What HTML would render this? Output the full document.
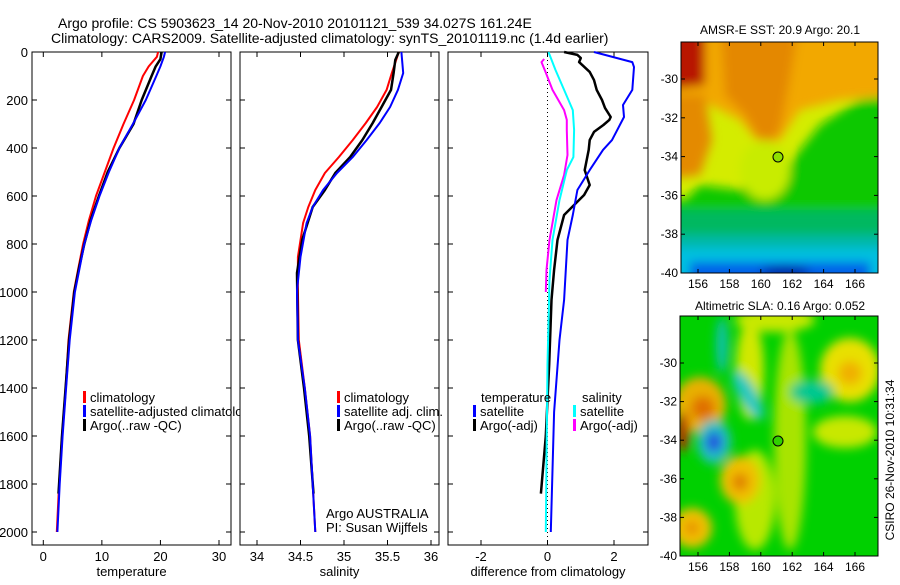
<!DOCTYPE html>
<html><head><meta charset="utf-8"><style>
body{margin:0;background:#fff;width:900px;height:580px;overflow:hidden}
svg text{font-family:"Liberation Sans",sans-serif;fill:#000}
</style></head><body>
<svg id="fig" width="900" height="580" viewBox="0 0 900 580" xmlns="http://www.w3.org/2000/svg">
<defs>
<filter id="blr" x="-20%" y="-20%" width="140%" height="140%"><feGaussianBlur stdDeviation="5"/></filter>
<clipPath id="c1"><rect x="681" y="42" width="197" height="231"/></clipPath>
<clipPath id="c2"><rect x="680" y="316" width="198" height="240"/></clipPath>
</defs>
<text x="58" y="28" font-size="14">Argo profile: CS 5903623_14 20-Nov-2010 20101121_539 34.027S 161.24E</text>
<text x="51" y="43" font-size="14">Climatology: CARS2009. Satellite-adjusted climatology: synTS_20101119.nc (1.4d earlier)</text>
<g id="plots"></g>

<g>
<g clip-path="url(#c1)">
<rect x="681" y="42" width="197" height="231" fill="#d4ec00"/>
<g filter="url(#blr)">
<polygon points="660,20 900,20 900,95 840,100 800,110 780,140 765,150 740,120 720,110 700,100 660,100" fill="#f2a800"/>
<polygon points="720,20 800,20 790,80 780,130 765,150 745,115 725,95" fill="#e48800"/>
<polygon points="660,95 705,95 712,140 700,175 660,180" fill="#e48a00"/>
<polygon points="660,20 705,20 705,85 660,90" fill="#b81800"/>
<polygon points="900,95 860,100 835,115 820,125 800,150 790,165 760,175 740,190 700,185 685,200 660,200 660,300 900,300" fill="#10c800"/>
<polygon points="660,210 900,210 900,300 660,300" fill="#00b860"/>
<polygon points="660,235 900,235 900,300 660,300" fill="#00b8a8"/>
<polygon points="660,248 900,248 900,300 660,300" fill="#00c0e0"/>
<polygon points="690,262 870,262 870,300 690,300" fill="#0060e8"/>
<ellipse cx="785" cy="272" rx="25" ry="6" fill="#0020a0"/>
<ellipse cx="765" cy="170" rx="25" ry="30" fill="#c8ec00"/>
</g>
</g>
<circle cx="778" cy="157" r="5" fill="#8ee000" stroke="#000"/>
</g>

<g>
<g clip-path="url(#c2)">
<rect x="680" y="316" width="198" height="240" fill="#00d000"/>
<g filter="url(#blr)">
<ellipse cx="750" cy="370" rx="14" ry="50" fill="#d0e800"/>
<ellipse cx="755" cy="500" rx="20" ry="50" fill="#b8e800"/>
<ellipse cx="790" cy="440" rx="16" ry="110" fill="#a8e400"/>
<ellipse cx="850" cy="370" rx="30" ry="32" fill="#e8e000"/>
<ellipse cx="850" cy="373" rx="12" ry="12" fill="#f0b000"/>
<ellipse cx="845" cy="432" rx="32" ry="16" fill="#c8e800"/>
<ellipse cx="700" cy="405" rx="26" ry="28" fill="#e8b000"/>
<ellipse cx="703" cy="408" rx="12" ry="12" fill="#e07000"/>
<ellipse cx="683" cy="432" rx="6" ry="20" fill="#c02000"/>
<ellipse cx="714" cy="442" rx="17" ry="22" fill="#20c0c0"/>
<ellipse cx="714" cy="442" rx="8" ry="10" fill="#2050e0"/>
<ellipse cx="740" cy="480" rx="20" ry="24" fill="#f0c000"/>
<ellipse cx="740" cy="482" rx="8" ry="9" fill="#e08000"/>
<ellipse cx="692" cy="528" rx="20" ry="20" fill="#f0c000"/>
<ellipse cx="692" cy="528" rx="7" ry="7" fill="#e89000"/>
<ellipse cx="748" cy="395" rx="9" ry="28" fill="#20c8c0" transform="rotate(-30 748 395)"/>
<ellipse cx="722" cy="345" rx="6" ry="28" fill="#10c0b0"/>
<ellipse cx="812" cy="392" rx="22" ry="12" fill="#00c890"/>
<ellipse cx="775" cy="320" rx="40" ry="12" fill="#c8e800"/>
</g>
</g>
<circle cx="778" cy="441" r="5" fill="#30d000" stroke="#000"/>
</g>
<text x="780" y="34" font-size="12" text-anchor="middle">AMSR-E SST: 20.9 Argo: 20.1</text>
<text x="780" y="310" font-size="12" text-anchor="middle">Altimetric SLA: 0.16 Argo: 0.052</text>
<text transform="translate(894 460) rotate(-90)" font-size="12" text-anchor="middle">CSIRO 26-Nov-2010 10:31:34</text>
</svg>
<script>
// ---- data ----
const tempDepths=[0,20,60,100,200,300,400,500,600,700,800,900,1000,1200,1400,1600,1800,2000];
const tempClim=[19.6,19.4,18.0,17.0,15.5,13.7,12.0,10.5,9.0,7.8,6.8,6.0,5.2,4.3,3.8,3.2,2.7,2.3];
const tempSat=[20.8,20.6,20.0,19.3,17.5,15.3,13.0,11.2,9.6,8.2,7.0,6.2,5.4,4.5,3.9,3.3,2.8,2.4];
const tempArgoDepths=[0,30,60,100,200,300,400,500,600,700,800,900,1000,1200,1400,1600,1840];
const tempArgo=[20.2,20.0,19.2,18.5,16.8,15.4,13.0,11.0,9.5,8.1,7.0,6.1,5.3,4.4,3.8,3.2,2.6];
const salDepths=[0,88,158,229,296,367,438,504,575,646,713,854,992,1200,1400,1600,1800,2000];
const salClim=[35.63,35.55,35.49,35.38,35.25,35.10,34.94,34.78,34.67,34.59,34.53,34.47,34.47,34.48,34.55,34.61,34.64,34.67];
const salSat=[35.66,35.68,35.62,35.53,35.41,35.26,35.10,34.92,34.76,34.64,34.57,34.50,34.46,34.47,34.55,34.61,34.64,34.67];
const salArgoDepths=[0,33,88,158,296,367,438,504,575,646,783,921,1200,1400,1600,1840];
const salArgo=[35.63,35.59,35.57,35.54,35.33,35.21,35.07,34.90,34.78,34.64,34.52,34.46,34.47,34.54,34.60,34.65];
const dTempSatDepths=[0,42,63,158,221,271,367,408,492,575,679,783,1033,1200,1500,2000];
const dTempSat=[1.4,2.55,2.6,2.55,2.27,2.3,1.94,1.67,1.27,0.9,0.76,0.6,0.5,0.36,0.2,0.1];
const dTempArgoDepths=[0,12,25,42,83,117,158,200,233,271,283,304,333,367,408,492,554,596,679,783,908,1033,1300,1600,1840];
const dTempArgo=[0.5,0.9,1.0,0.95,1.27,1.4,1.48,1.64,1.73,1.9,1.86,1.68,1.4,1.27,1.24,1.12,1.27,1.1,0.5,0.3,0.2,0.12,0.05,-0.05,-0.2];
const dSalSatDepths=[0,75,158,242,325,438,492,617,783,950,1300,1700,2000];
const dSalSat=[0.03,0.24,0.5,0.76,0.8,0.78,0.58,0.36,0.15,0.06,0.0,-0.03,-0.05];
const dSalArgoDepths=[29,42,83,158,242,283,325,429,513,617,783,908,1000];
const dSalArgo=[-0.1,-0.18,-0.06,0.15,0.5,0.58,0.58,0.6,0.5,0.27,0.06,-0.03,-0.05];
const depthTicks=[0,200,400,600,800,1000,1200,1400,1600,1800,2000];
const tempTicks=[0,10,20,30];
const salTicks=[34,34.5,35,35.5,36];
const salTickLabels=["34","34.5","35","35.5","36"];
const diffTicks=[-2,0,2];

const NS="http://www.w3.org/2000/svg";
const root=document.getElementById('plots');
function mk(tag,attrs,parent){const e=document.createElementNS(NS,tag);for(const k in attrs)e.setAttribute(k,attrs[k]);(parent||root).appendChild(e);return e;}
const top0=52,bot=545;
const yD=d=>top0+d*0.24;
function panel(name,left,right,x0v,x1v,x0p,x1p,ticks,labels,xlabel,showY){
  const xs=v=>x0p+(v-x0v)*(x1p-x0p)/(x1v-x0v);
  const g=mk('g',{});
  
  
  const r=mk('rect',{x:left,y:top0,width:right-left,height:bot-top0,fill:'#fff',stroke:'#000','stroke-width':1},g);
  
  
  depthTicks.forEach(d=>{
    const y=yD(d);
    mk('line',{x1:left,x2:left+5,y1:y,y2:y,stroke:'#000'},g);
    mk('line',{x1:right-5,x2:right,y1:y,y2:y,stroke:'#000'},g);
    if(showY){const t=mk('text',{x:left-4,y:y+5,'font-size':13,'text-anchor':'end'},g);t.textContent=d;
      
      }
  });
  ticks.forEach((v,i)=>{
    const x=xs(v);
    mk('line',{x1:x,x2:x,y1:top0,y2:top0+5,stroke:'#000'},g);
    mk('line',{x1:x,x2:x,y1:bot-5,y2:bot,stroke:'#000'},g);
    const t=mk('text',{x:x,y:bot+16,'font-size':13,'text-anchor':'middle'},g);t.textContent=labels[i];
    
    
  });
  const xl=mk('text',{x:(left+right)/2,y:bot+31,'font-size':13,'text-anchor':'middle'},g);xl.textContent=xlabel;
  
  
  return {g,xs};
}
function line(p,depths,vals,color,w,name){
  const pts=depths.map((d,i)=>p.xs(vals[i]).toFixed(1)+','+yD(d).toFixed(1)).join(' ');
  const l=mk('polyline',{points:pts,fill:'none',stroke:color,'stroke-width':w,'stroke-linejoin':'round'},p.g);
  
  
}
function legend(g,x,y,color,text,name){
  mk('rect',{x:x,y:y-11,width:3,height:12,fill:color},g);
  const t=mk('text',{x:x+7,y:y,'font-size':13},g);t.textContent=text;
  
  
}
const p1=panel('temperature-panel',32,231,0,30,43.3,219,tempTicks,tempTicks.map(String),'temperature',true);
line(p1,tempDepths,tempClim,'#f00',2,'temp-climatology-line');
line(p1,tempArgoDepths,tempArgo,'#000',2.5,'temp-argo-line');
line(p1,tempDepths,tempSat,'#00f',2,'temp-satellite-line');
legend(p1.g,83,402,'#f00','climatology','temp-legend-climatology');
legend(p1.g,83,416,'#00f','satellite-adjusted climatology','temp-legend-satellite');
legend(p1.g,83,430,'#000','Argo(..raw -QC)','temp-legend-argo');

const p2=panel('salinity-panel',240,439,34,36,257,431,salTicks,salTickLabels,'salinity',false);
line(p2,salDepths,salClim,'#f00',2,'sal-climatology-line');
line(p2,salArgoDepths,salArgo,'#000',2.5,'sal-argo-line');
line(p2,salDepths,salSat,'#00f',2,'sal-satellite-line');
legend(p2.g,337,402,'#f00','climatology','sal-legend-climatology');
legend(p2.g,337,416,'#00f','satellite adj. clim.','sal-legend-satellite');
legend(p2.g,337,430,'#000','Argo(..raw -QC)','sal-legend-argo');
[['Argo AUSTRALIA',518],['PI: Susan Wijffels',532]].forEach(a=>{const t=mk('text',{x:326,y:a[1],'font-size':13},p2.g);t.textContent=a[0];
  
  });

const p3=panel('difference-panel',448,648,-2,2,481,614,diffTicks,diffTicks.map(String),'difference from climatology',false);
mk('line',{x1:p3.xs(0),x2:p3.xs(0),y1:top0,y2:bot,stroke:'#000','stroke-dasharray':'1,3'},p3.g);
line(p3,dSalArgoDepths,dSalArgo,'#f0f',2,'diff-sal-argo-line');
line(p3,dTempArgoDepths,dTempArgo,'#000',2.5,'diff-temp-argo-line');
line(p3,dTempSatDepths,dTempSat,'#00f',2,'diff-temp-satellite-line');
line(p3,dSalSatDepths,dSalSat,'#0ff',2,'diff-sal-satellite-line');
const th=mk('text',{x:481,y:402,'font-size':13},p3.g);th.textContent='temperature';


const sh=mk('text',{x:582,y:402,'font-size':13},p3.g);sh.textContent='salinity';


legend(p3.g,473,416,'#00f','satellite','diff-legend-temp-satellite');
legend(p3.g,473,430,'#000','Argo(-adj)','diff-legend-temp-argo');
legend(p3.g,573,416,'#0ff','satellite','diff-legend-sal-satellite');
legend(p3.g,573,430,'#f0f','Argo(-adj)','diff-legend-sal-argo');

// ---- map axes ----
const lonTicks=[156,158,160,162,164,166];
const latTicks=[-30,-32,-34,-36,-38,-40];
function mapAxes(name,l,r,t,b,latTop){
  const g=mk('g',{},document.getElementById('fig'));
  
  
  mk('rect',{x:l,y:t,width:r-l,height:b-t,fill:'none',stroke:'#000'},g);
  const lx=v=>698+(v-156)*15.7;
  const ly=v=>latTop+(-30-v)*(b-latTop)/10;
  lonTicks.forEach(v=>{const x=lx(v);
    mk('line',{x1:x,x2:x,y1:t,y2:t+4,stroke:'#000'},g);
    mk('line',{x1:x,x2:x,y1:b-4,y2:b,stroke:'#000'},g);
    const tx=mk('text',{x:x,y:b+15,'font-size':12,'text-anchor':'middle'},g);tx.textContent=v;
    
    });
  latTicks.forEach(v=>{const y=ly(v);
    mk('line',{x1:l,x2:l+4,y1:y,y2:y,stroke:'#000'},g);
    mk('line',{x1:r-4,x2:r,y1:y,y2:y,stroke:'#000'},g);
    const tx=mk('text',{x:l-3,y:y+4,'font-size':12,'text-anchor':'end'},g);tx.textContent=v;
    
    });
}
mapAxes('sst-map-axes',681,878,42,273,79);
mapAxes('sla-map-axes',680,878,316,556,363);
</script>
</body></html>
